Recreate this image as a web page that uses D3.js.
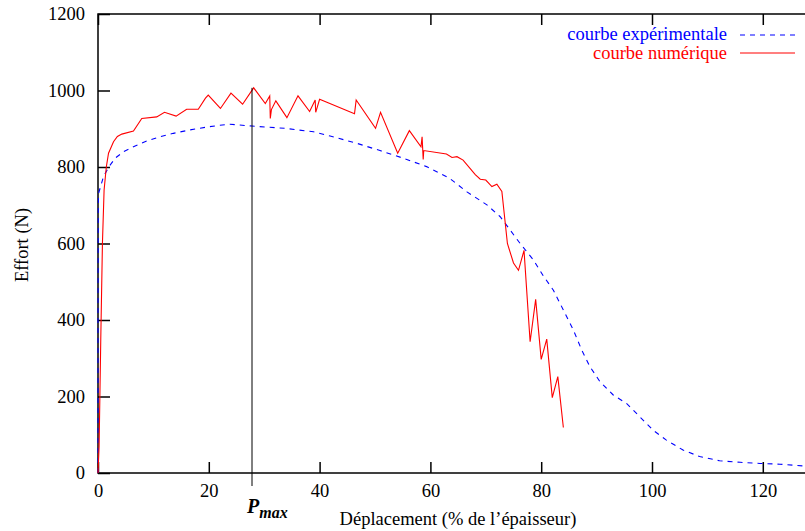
<!DOCTYPE html>
<html><head><meta charset="utf-8">
<script src="https://cdn.jsdelivr.net/npm/d3@7"></script>
<style>body{margin:0;background:#fff}svg{display:block}text{font-family:"Liberation Serif","Times New Roman",serif}</style>
</head><body>
<script>
const xTicks = [0,20,40,60,80,100,120];
const yTicks = [0,200,400,600,800,1000,1200];
const seriesNames = ["courbe expérimentale","courbe numérique"];
const experimental = [[0,0],[0,400],[0.05,700],[0.1,731],[1.0,775],[1.9,799],[3.1,823],[4.6,840],[6.4,853],[8.8,868],[11.2,879],[13.6,888],[16.6,897],[19.9,905],[23.6,912],[27.8,907],[33.8,901],[38.9,892],[41.9,881],[46.7,862],[50.9,843],[55.1,823],[59.3,801],[63.5,770],[66.6,735],[70.2,701],[72.6,670],[74.4,635],[76.2,600],[78.6,557],[80.4,515],[82.2,478],[84.0,426],[85.8,374],[87.3,322],[88.8,278],[90.6,239],[93.0,204],[95.4,182],[97.8,147],[100.2,112],[102.6,86],[105.6,60],[108.6,43],[112.2,32],[115.9,28],[119.5,25],[123.1,23],[127.6,18],[130,16]];
const numerique = [[0,0],[0.2,70],[0.5,350],[0.8,600],[1.1,740],[1.5,800],[1.9,836],[2.8,866],[3.5,880],[4.3,886],[6.4,894],[7.9,927],[10.6,931],[12.0,943],[14.1,933],[16.0,951],[18.1,951],[19.4,980],[19.9,988],[22.1,953],[24.0,993],[26.1,964],[28.1,1007],[30.2,966],[31.0,986],[31.1,927],[31.3,950],[32.1,973],[34.1,929],[36.1,986],[38.2,945],[39.2,975],[39.3,943],[40.0,977],[46.3,939],[46.6,975],[50.1,901],[51.0,943],[54.1,836],[56.2,895],[58.3,853],[58.5,879],[58.7,820],[58.8,843],[62.9,834],[63.9,825],[64.8,827],[65.9,818],[68.1,780],[69.0,768],[70.0,766],[71.1,749],[72.0,755],[72.9,736],[73.9,600],[75.0,549],[75.9,530],[76.9,582],[78.0,343],[79.0,454],[80.0,297],[81.0,350],[82.0,197],[83.0,252],[84.0,119]];
const pmaxX = 27.8, pmaxY = 1007;

const W=805,H=531;
const svg=d3.select("body").append("svg").attr("width",W).attr("height",H);
const x=d3.scaleLinear().domain([0,130]).range([98,98+130*5.54]);
const y=d3.scaleLinear().domain([0,1200]).range([473,14]);
const fs=18.5;

svg.append("rect").attr("x",x(0)).attr("y",y(1200)).attr("width",x(130)-x(0)).attr("height",y(0)-y(1200))
  .attr("fill","none").attr("stroke","#000").attr("stroke-width",1.5);

const xb=svg.append("g").attr("transform",`translate(0,${y(0)})`)
  .call(d3.axisBottom(x).tickValues(xTicks).tickSizeInner(-11).tickSizeOuter(0).tickPadding(11).tickFormat(d3.format("d")));
xb.select(".domain").remove();
xb.selectAll("line").attr("stroke","#000").attr("stroke-width",1.5);
xb.selectAll("text").attr("font-size",fs).attr("fill","#000").attr("font-family","Liberation Serif");
const xt=svg.append("g").attr("transform",`translate(0,${y(1200)})`)
  .call(d3.axisTop(x).tickValues(xTicks).tickSizeInner(-11).tickSizeOuter(0).tickFormat(""));
xt.select(".domain").remove();
xt.selectAll("line").attr("stroke","#000").attr("stroke-width",1.5);
const yl=svg.append("g").attr("transform",`translate(${x(0)},0)`)
  .call(d3.axisLeft(y).tickValues(yTicks).tickSizeInner(-12).tickSizeOuter(0).tickPadding(13).tickFormat(d3.format("d")));
yl.select(".domain").remove();
yl.selectAll("line").attr("stroke","#000").attr("stroke-width",1.5);
yl.selectAll("text").attr("font-size",fs).attr("fill","#000").attr("font-family","Liberation Serif");

const line=d3.line().x(d=>x(d[0])).y(d=>y(d[1]));
svg.append("path").datum(experimental).attr("d",line).attr("fill","none").attr("stroke","#0000ff").attr("stroke-width",1.1).attr("stroke-dasharray","5,5");
svg.append("path").datum(numerique).attr("d",line).attr("fill","none").attr("stroke","#ff0000").attr("stroke-width",1.1);

svg.append("line").attr("x1",x(pmaxX)).attr("x2",x(pmaxX)).attr("y1",y(pmaxY)).attr("y2",y(0)+13)
  .attr("stroke","#000").attr("stroke-width",1);
const pt=svg.append("text").attr("x",x(pmaxX)-5).attr("y",513).attr("text-anchor","start")
  .attr("font-weight","bold").attr("font-style","italic").attr("font-size",20).attr("fill","#000");
pt.append("tspan").text("P");
pt.append("tspan").attr("dy",5).attr("font-size",16).text("max");

svg.append("text").attr("x",458).attr("y",525).attr("text-anchor","middle").attr("font-size",fs).text("Déplacement (% de l’épaisseur)");
svg.append("text").attr("transform","translate(28,245) rotate(-90)").attr("text-anchor","middle").attr("font-size",fs).text("Effort (N)");

const lg=[{n:seriesNames[0],c:"#0000ff",d:"5,5",ty:40,ly:35},{n:seriesNames[1],c:"#ff0000",d:null,ty:59,ly:53}];
lg.forEach(l=>{
  svg.append("text").attr("x",727).attr("y",l.ty).attr("text-anchor","end").attr("font-size",fs).attr("fill",l.c).text(l.n);
  const ln=svg.append("line").attr("x1",740).attr("x2",795).attr("y1",l.ly).attr("y2",l.ly).attr("stroke",l.c).attr("stroke-width",1.1);
  if(l.d) ln.attr("stroke-dasharray",l.d);
});
</script>
</body></html>
